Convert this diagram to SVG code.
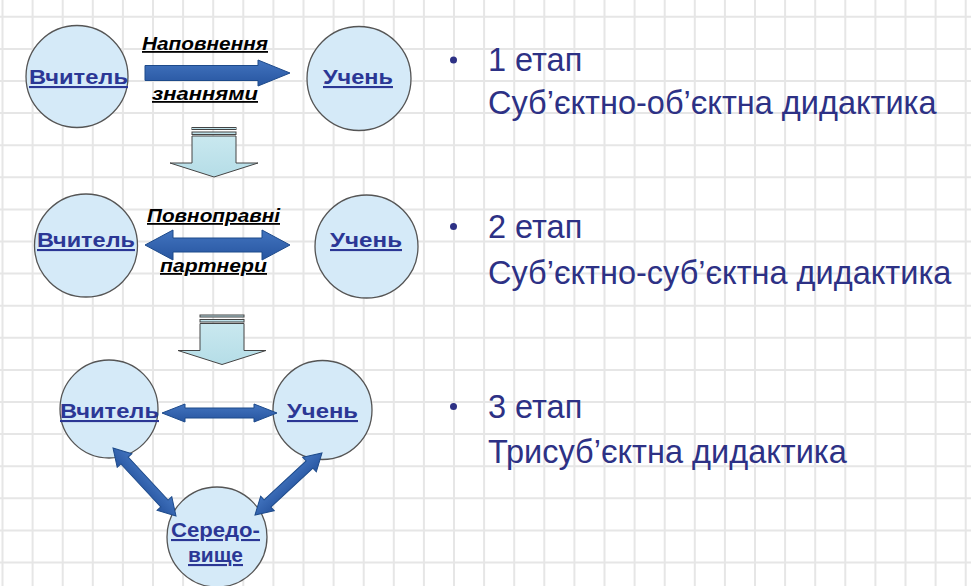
<svg xmlns="http://www.w3.org/2000/svg" width="971" height="586" viewBox="0 0 971 586">
<style>
.grid{stroke:#e6e6e6;stroke-width:2;fill:none}
.node{fill:#d5eaf8;stroke:#555;stroke-width:1.3}
.lbl{font-family:"Liberation Sans",Arial,sans-serif;font-weight:bold;font-size:21px;fill:#2b3795;text-decoration:underline}
.edge{font-family:"Liberation Sans",Arial,sans-serif;font-weight:bold;font-style:italic;font-size:18px;fill:#000;text-decoration:underline}
.big{font-family:"Liberation Sans",Arial,sans-serif;font-size:32.5px;fill:#2d3185}
.arr{fill:url(#blue);stroke:#1d4a8a;stroke-width:1}
.down{fill:url(#cyan);stroke:#444;stroke-width:1}
.bul{fill:#2d3185}
</style>
<defs>
<linearGradient id="blue" x1="0" y1="0" x2="0" y2="1">
<stop offset="0" stop-color="#4274bf"/>
<stop offset="1" stop-color="#2755a0"/>
</linearGradient>
<linearGradient id="cyan" x1="0" y1="0" x2="0" y2="1">
<stop offset="0" stop-color="#c9e8ef"/>
<stop offset="1" stop-color="#b5dde7"/>
</linearGradient>
<g id="downArrow">
<rect class="down" x="192" y="127.5" width="44" height="2"/>
<rect class="down" x="192" y="132" width="44" height="2.5"/>
<path class="down" d="M192,136 H236 V163 H258 L214,177 L170,163 H192 Z"/>
</g>
</defs>
<rect width="971" height="586" fill="#fff"/>
<path class="grid" d="M2.5,0V586M32.6,0V586M62.7,0V586M92.8,0V586M122.9,0V586M153,0V586M183.1,0V586M213.2,0V586M243.3,0V586M273.4,0V586M303.5,0V586M333.6,0V586M363.7,0V586M393.8,0V586M423.9,0V586M454,0V586M484.1,0V586M514.2,0V586M544.3,0V586M574.4,0V586M604.5,0V586M634.6,0V586M664.7,0V586M694.8,0V586M724.9,0V586M755,0V586M785.1,0V586M815.2,0V586M845.3,0V586M875.4,0V586M905.5,0V586M935.6,0V586M965.7,0V586M0,16.8H971M0,48.9H971M0,81H971M0,113.1H971M0,145.2H971M0,177.3H971M0,209.4H971M0,241.5H971M0,273.6H971M0,305.7H971M0,337.8H971M0,369.9H971M0,402H971M0,434.1H971M0,466.2H971M0,498.3H971M0,530.4H971M0,562.5H971"/>

<g id="stage1-teacher"><circle class="node" cx="77" cy="76.5" r="51"/><text class="lbl" x="29" y="84" textLength="99" lengthAdjust="spacingAndGlyphs">Вчитель</text></g>
<g id="stage1-student"><circle class="node" cx="359" cy="78.5" r="52"/><text class="lbl" x="323" y="84" textLength="70" lengthAdjust="spacingAndGlyphs">Учень</text></g>
<g id="stage2-teacher"><circle class="node" cx="86" cy="245.5" r="51.5"/><text class="lbl" x="37" y="247" textLength="98" lengthAdjust="spacingAndGlyphs">Вчитель</text></g>
<g id="stage2-student"><circle class="node" cx="366.5" cy="246.5" r="51.5"/><text class="lbl" x="330" y="247" textLength="72" lengthAdjust="spacingAndGlyphs">Учень</text></g>
<g id="stage3-teacher"><circle class="node" cx="109" cy="409" r="49"/><text class="lbl" x="60" y="418" textLength="99" lengthAdjust="spacingAndGlyphs">Вчитель</text></g>
<g id="stage3-student"><circle class="node" cx="322.5" cy="410" r="49.5"/><text class="lbl" x="287" y="418" textLength="71" lengthAdjust="spacingAndGlyphs">Учень</text></g>
<g id="stage3-environment"><circle class="node" cx="217" cy="537" r="50"/><text class="lbl" x="171" y="537" textLength="89" lengthAdjust="spacingAndGlyphs">Середо-</text><text class="lbl" x="188" y="562" textLength="55" lengthAdjust="spacingAndGlyphs">вище</text></g>

<g id="connectors">
<path class="arr" d="M145,65.5 H258 V60 L290,73 L258,86 V80.5 H145 Z"/>
<text class="edge" x="142" y="50" textLength="126" lengthAdjust="spacingAndGlyphs">Наповнення</text>
<text class="edge" x="152" y="100" textLength="106" lengthAdjust="spacingAndGlyphs"> знаннями</text>
<use href="#downArrow"/>
<path class="arr" transform="translate(145,245)" d="M0,0 L28,-15 L28,-7 L117,-7 L117,-15 L145,0 L117,15 L117,7 L28,7 L28,15 Z"/>
<text class="edge" x="147" y="222" textLength="133" lengthAdjust="spacingAndGlyphs">Повноправні</text>
<text class="edge" x="160" y="272" textLength="107" lengthAdjust="spacingAndGlyphs">партнери</text>
<use href="#downArrow" transform="translate(8,187.5)"/>
<path class="arr" transform="translate(162,413)" d="M0,0 L23,-9 L23,-5 L92,-5 L92,-9 L115,0 L92,9 L92,5 L23,5 L23,9 Z"/>
<path class="arr" transform="translate(113,448) rotate(47.2)" d="M0,0 L17,-10 L17,-5 L75.7,-5 L75.7,-10 L92.7,0 L75.7,10 L75.7,5 L17,5 L17,10 Z"/>
<path class="arr" transform="translate(255,515) rotate(-42.8)" d="M0,0 L17,-10 L17,-5 L74.3,-5 L74.3,-10 L91.3,0 L74.3,10 L74.3,5 L17,5 L17,10 Z"/>
</g>

<g id="stages">
<circle class="bul" cx="453.5" cy="60" r="3.5"/>
<text class="big" x="488" y="70.5">1 етап</text>
<text class="big" x="488" y="114">Суб’єктно-об’єктна дидактика</text>
<circle class="bul" cx="453.5" cy="226.5" r="3.5"/>
<text class="big" x="488" y="237.5">2 етап</text>
<text class="big" x="488" y="284">Суб’єктно-суб’єктна дидактика</text>
<circle class="bul" cx="453.5" cy="406.5" r="3.5"/>
<text class="big" x="488" y="417.5">3 етап</text>
<text class="big" x="488" y="463">Трисуб’єктна дидактика</text>
</g>
</svg>
